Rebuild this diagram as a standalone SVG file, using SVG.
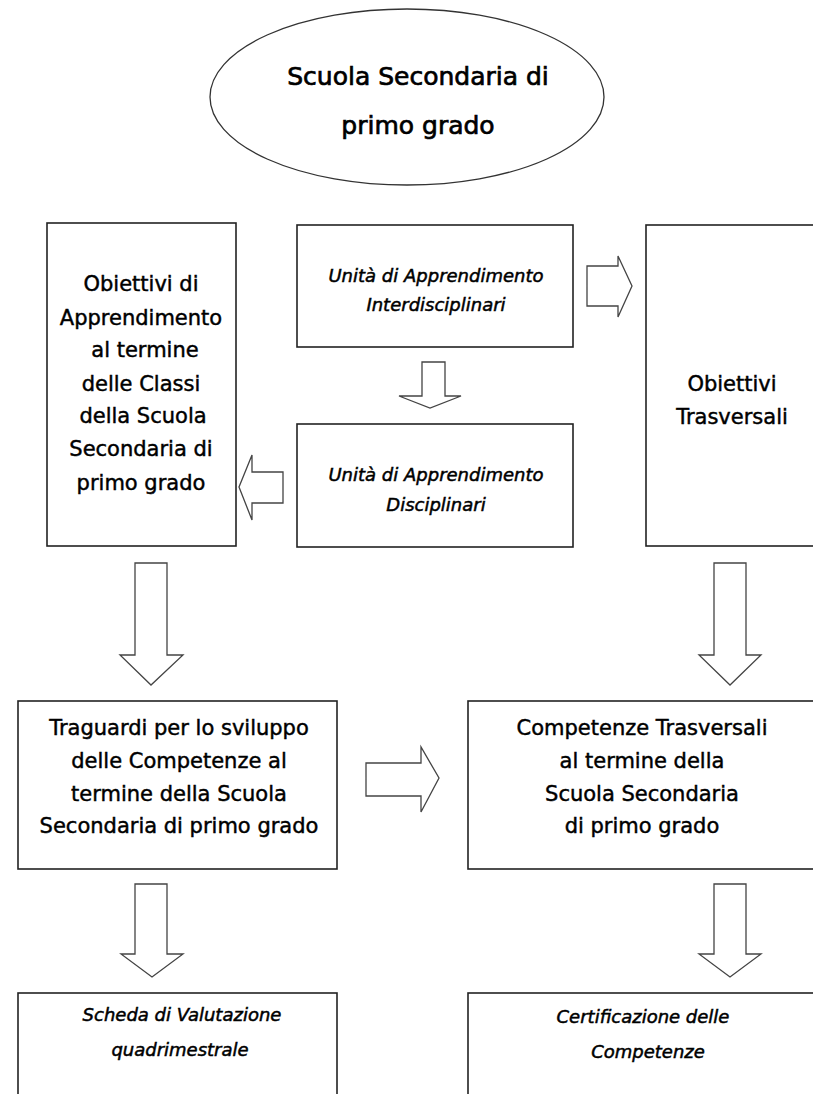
<svg xmlns="http://www.w3.org/2000/svg" width="813" height="1094" viewBox="0 0 813 1094">
<style>
.box{fill:#fff;stroke:#222;stroke-width:1.6}
.arr{fill:#fff;stroke:#444;stroke-width:1.3;stroke-linejoin:miter}
.t{font-family:"DejaVu Sans",sans-serif;font-size:21px;fill:#000;stroke:#000;stroke-width:0.45;text-anchor:middle}
.i{font-family:"DejaVu Sans",sans-serif;font-size:18px;font-style:italic;fill:#000;stroke:#000;stroke-width:0.5;text-anchor:middle}
.h{font-family:"DejaVu Sans",sans-serif;font-size:25px;fill:#000;stroke:#000;stroke-width:0.7;text-anchor:middle}
</style>
<rect width="813" height="1094" fill="#fff"/>
<g id="connectors">
<polygon class="arr" points="422,362 445,362 445,396 461,396 430,408 399,396 422,396"/>
<polygon class="arr" points="587,266 618,266 618,256 632,286 618,317 618,306 587,306"/>
<polygon class="arr" points="283,472 252,472 252,455 239,487 252,520 252,503 283,503"/>
<polygon class="arr" points="135,563 167,563 167,655 183,655 151,685 120,655 135,655"/>
<polygon class="arr" points="714,563 746,563 746,655 761,655 730,685 699,655 714,655"/>
<polygon class="arr" points="366,763 421,763 421,747 439,778 421,812 421,796 366,796"/>
<polygon class="arr" points="135,884 167,884 167,954 183,954 152,977 121,954 135,954"/>
<polygon class="arr" points="714,884 746,884 746,954 761,954 730,977 699,954 714,954"/>
</g>
<g id="title">
<ellipse cx="407" cy="97" rx="197" ry="88" fill="#fff" stroke="#333" stroke-width="1.3"/>
<text class="h" x="418" y="85">Scuola Secondaria di</text>
<text class="h" x="418" y="134">primo grado</text>
</g>
<g id="obiettivi-apprendimento">
<rect class="box" x="47" y="223" width="189" height="323"/>
<text class="t" x="141" y="291">Obiettivi di</text>
<text class="t" x="141" y="325">Apprendimento</text>
<text class="t" x="145" y="357">al termine</text>
<text class="t" x="141" y="391">delle Classi</text>
<text class="t" x="143" y="423">della Scuola</text>
<text class="t" x="141" y="456">Secondaria di</text>
<text class="t" x="141" y="490">primo grado</text>
</g>
<g id="uda-interdisciplinari">
<rect class="box" x="297" y="225" width="276" height="122"/>
<text class="i" x="436" y="282">Unità di Apprendimento</text>
<text class="i" x="436" y="311">Interdisciplinari</text>
</g>
<g id="uda-disciplinari">
<rect class="box" x="297" y="424" width="276" height="123"/>
<text class="i" x="436" y="481">Unità di Apprendimento</text>
<text class="i" x="436" y="511">Disciplinari</text>
</g>
<g id="obiettivi-trasversali">
<rect class="box" x="646" y="225" width="180" height="321"/>
<text class="t" x="732" y="391">Obiettivi</text>
<text class="t" x="732" y="424">Trasversali</text>
</g>
<g id="traguardi">
<rect class="box" x="18" y="701" width="319" height="168"/>
<text class="t" x="179" y="735">Traguardi per lo sviluppo</text>
<text class="t" x="179" y="768">delle Competenze al</text>
<text class="t" x="179" y="801">termine della Scuola</text>
<text class="t" x="179" y="833">Secondaria di primo grado</text>
</g>
<g id="competenze-trasversali">
<rect class="box" x="468" y="701" width="360" height="168"/>
<text class="t" x="642" y="735">Competenze Trasversali</text>
<text class="t" x="642" y="768">al termine della</text>
<text class="t" x="642" y="801">Scuola Secondaria</text>
<text class="t" x="642" y="833">di primo grado</text>
</g>
<g id="scheda-valutazione">
<rect class="box" x="18" y="993" width="319" height="120"/>
<text class="i" x="182" y="1021">Scheda di Valutazione</text>
<text class="i" x="180" y="1056">quadrimestrale</text>
</g>
<g id="certificazione">
<rect class="box" x="468" y="993" width="360" height="120"/>
<text class="i" x="643" y="1023">Certificazione delle</text>
<text class="i" x="648" y="1058">Competenze</text>
</g>
</svg>
